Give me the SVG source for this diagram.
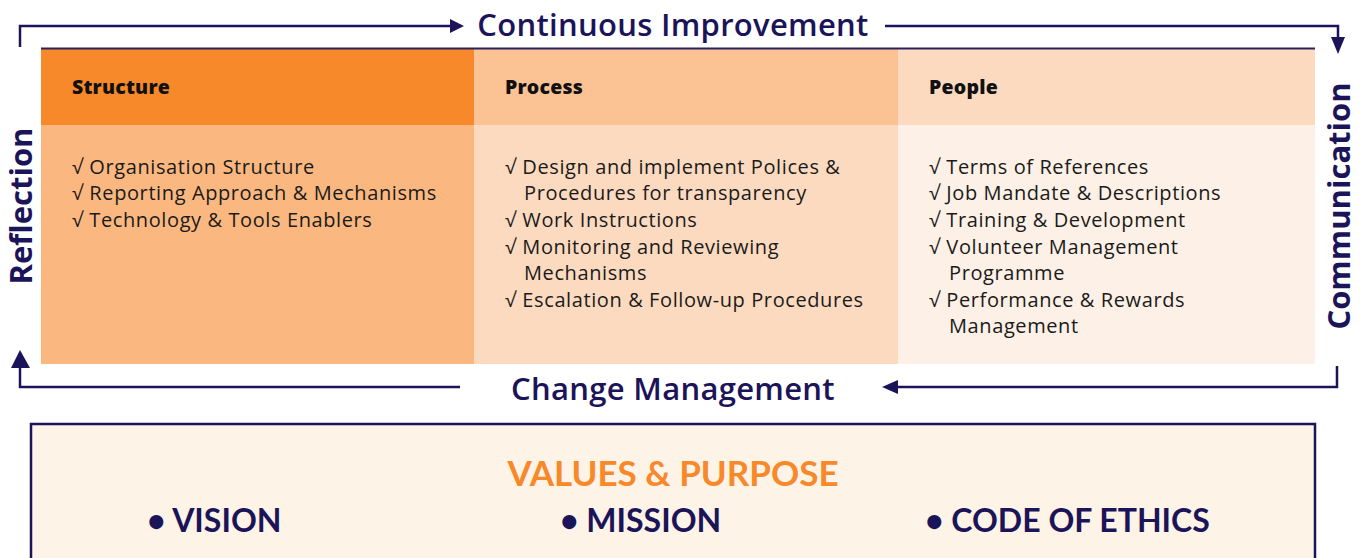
<svg xmlns="http://www.w3.org/2000/svg" width="1367" height="558" viewBox="0 0 1367 558">
<defs>
<style>
.lbl{font-family:"Open Sans",Lato,sans-serif;font-weight:600;fill:#1b1459;font-size:31px;letter-spacing:0.3px}
.side{font-family:"Open Sans",Lato,sans-serif;font-weight:700;fill:#1b1459;font-size:31px;letter-spacing:0px}
.hdr{font-family:"Open Sans",Lato,sans-serif;font-weight:800;fill:#111;font-size:19.5px;letter-spacing:0.2px}
.body{font-family:"Open Sans",Lato,sans-serif;font-weight:400;fill:#1a1a1a;font-size:20px;letter-spacing:0.6px}
.big{font-family:Lato,"Open Sans",sans-serif;font-weight:700;font-size:32px;fill:#1b1459}
.vp{font-family:Lato,"Open Sans",sans-serif;font-weight:700;font-size:35px;fill:#f7892a}
.conn{fill:none;stroke:#1b1459;stroke-width:2.5}
</style>
</defs>
<rect width="1367" height="558" fill="#fff"/>

<g id="connectors">
<path class="conn" d="M20,47 V26 H450"/>
<polygon points="450,19 464,26 450,33" fill="#1b1459"/>
<path class="conn" d="M885,26 H1338 V38"/>
<polygon points="1331,37 1345,37 1338,54" fill="#1b1459"/>
<path class="conn" d="M1337,366 V387 H898"/>
<polygon points="898,380 898,394 882,387" fill="#1b1459"/>
<path class="conn" d="M460,387 H20 V367"/>
<polygon points="11,368 30,368 20,350" fill="#1b1459"/>
</g>

<g id="labels">
<text class="lbl" x="673" y="36" text-anchor="middle">Continuous Improvement</text>
<text class="lbl" x="673" y="400" text-anchor="middle">Change Management</text>
<text class="side" transform="translate(32,206) rotate(-90)" text-anchor="middle">Reflection</text>
<text class="side" transform="translate(1350,206) rotate(-90)" text-anchor="middle">Communication</text>
</g>

<g id="structure">
<rect x="41" y="49" width="433" height="76" fill="#f7892a"/>
<rect x="41" y="125" width="433" height="239" fill="#fab880"/>
<text class="hdr" x="72" y="94">Structure</text>
<text class="body" x="72" y="174">√ Organisation Structure</text>
<text class="body" x="72" y="200">√ Reporting Approach &amp; Mechanisms</text>
<text class="body" x="72" y="227">√ Technology &amp; Tools Enablers</text>
</g>

<g id="process">
<rect x="474" y="49" width="424" height="76" fill="#fbc294"/>
<rect x="474" y="125" width="424" height="239" fill="#fcdac0"/>
<text class="hdr" x="505" y="94">Process</text>
<text class="body" x="505" y="174">√ Design and implement Polices &amp;</text>
<text class="body" x="524" y="200">Procedures for transparency</text>
<text class="body" x="505" y="227">√ Work Instructions</text>
<text class="body" x="505" y="254">√ Monitoring and Reviewing</text>
<text class="body" x="524" y="280">Mechanisms</text>
<text class="body" x="505" y="307">√ Escalation &amp; Follow-up Procedures</text>
</g>

<g id="people">
<rect x="898" y="49" width="417" height="76" fill="#fcdac0"/>
<rect x="898" y="125" width="417" height="239" fill="#fdf0e6"/>
<text class="hdr" x="929" y="94">People</text>
<text class="body" x="929" y="174">√ Terms of References</text>
<text class="body" x="929" y="200">√ Job Mandate &amp; Descriptions</text>
<text class="body" x="929" y="227">√ Training &amp; Development</text>
<text class="body" x="929" y="254">√ Volunteer Management</text>
<text class="body" x="949" y="280">Programme</text>
<text class="body" x="929" y="307">√ Performance &amp; Rewards</text>
<text class="body" x="949" y="333">Management</text>
</g>
<line x1="41" y1="48.5" x2="1315" y2="48.5" stroke="#2a2060" stroke-width="2"/>

<g id="values">
<rect x="31" y="424" width="1284" height="150" fill="#fdf3e6" stroke="#1b1459" stroke-width="2.5"/>
<text class="vp" x="673" y="486" text-anchor="middle">VALUES &amp; PURPOSE</text>
<text class="big" x="147" y="532">• VISION</text>
<text class="big" x="560" y="532">• MISSION</text>
<text class="big" x="925" y="532">• CODE OF ETHICS</text>
</g>
</svg>
